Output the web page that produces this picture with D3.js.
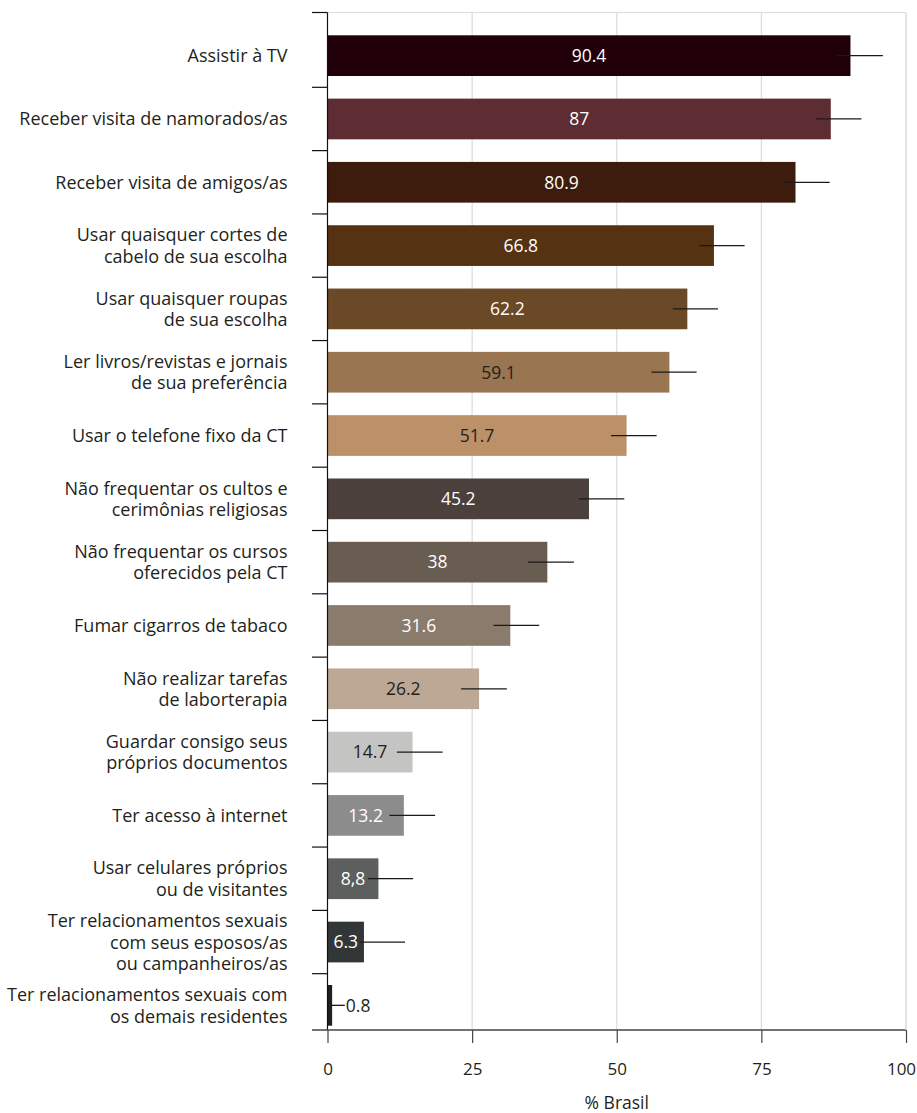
<!DOCTYPE html>
<html>
<head>
<meta charset="utf-8">
<script src="https://cdn.jsdelivr.net/npm/d3@7"></script>
<style>
  html, body { margin: 0; padding: 0; background: #fff; }
  svg { display: block; }
  text { font-family: "Open Sans", "Noto Sans", sans-serif; }
</style>
</head>
<body>
<div id="chart"></div>
<script>
// Rights allowed to residents of therapeutic communities (% Brasil)
const categories = [
  ["Assistir à TV"],
  ["Receber visita de namorados/as"],
  ["Receber visita de amigos/as"],
  ["Usar quaisquer cortes de", "cabelo de sua escolha"],
  ["Usar quaisquer roupas", "de sua escolha"],
  ["Ler livros/revistas e jornais", "de sua preferência"],
  ["Usar o telefone fixo da CT"],
  ["Não frequentar os cultos e", "cerimônias religiosas"],
  ["Não frequentar os cursos", "oferecidos pela CT"],
  ["Fumar cigarros de tabaco"],
  ["Não realizar tarefas", "de laborterapia"],
  ["Guardar consigo seus", "próprios documentos"],
  ["Ter acesso à internet"],
  ["Usar celulares próprios", "ou de visitantes"],
  ["Ter relacionamentos sexuais", "com seus esposos/as", "ou campanheiros/as"],
  ["Ter relacionamentos sexuais com", "os demais residentes"]
];
const values = [90.4, 87, 80.9, 66.8, 62.2, 59.1, 51.7, 45.2, 38, 31.6, 26.2, 14.7, 13.2, 8.8, 6.3, 0.8];
const valueLabels = ["90.4", "87", "80.9", "66.8", "62.2", "59.1", "51.7", "45.2", "38", "31.6", "26.2", "14.7", "13.2", "8,8", "6.3", "0.8"];
const errLow  = [88.2, 84.4, 78.9, 64.3, 59.7, 56.0, 49.0, 43.5, 34.7, 28.7, 23.1, 12.0, 10.7, 7.0, 5.7, 0.5];
const errHigh = [96.0, 92.3, 86.8, 72.1, 67.5, 63.8, 56.9, 51.3, 42.6, 36.6, 31.0, 19.9, 18.6, 14.8, 13.4, 3.0];
const barColors = ["#22000a", "#5e2d33", "#3d1c0e", "#553211", "#6b4826", "#9a7551", "#bc916a",
                   "#4b403c", "#695c51", "#8b7b6d", "#bca895", "#c4c4c2", "#8c8c8c", "#5c5f5e", "#333636", "#231f20"];
const labelColors = ["#fff", "#fff", "#fff", "#fff", "#fff", "#231f20", "#231f20",
                     "#fff", "#fff", "#fff", "#231f20", "#231f20", "#fff", "#fff", "#fff", "#231f20"];
const xTicks = [0, 25, 50, 75, 100];
const xTitle = "% Brasil";

const W = 917, H = 1113;
const plotLeft = 327.5, plotRight = 906, plotTop = 12.5, plotBottom = 1030;

const svg = d3.select("#chart").append("svg").attr("width", W).attr("height", H);

const x = d3.scaleLinear().domain([0, 100]).range([plotLeft, plotRight]);
const y = d3.scaleBand().domain(d3.range(categories.length)).range([24, 1037])
  .paddingInner(0.357).paddingOuter(0.1785);

// grid lines and frame
svg.append("g").selectAll("line").data(xTicks.slice(1))
  .join("line")
  .attr("x1", d => x(d)).attr("x2", d => x(d))
  .attr("y1", plotTop).attr("y2", plotBottom)
  .attr("stroke", "#dcdcdc").attr("stroke-width", 1.2);
svg.append("line")
  .attr("x1", plotLeft).attr("x2", plotRight)
  .attr("y1", plotTop).attr("y2", plotTop)
  .attr("stroke", "#dcdcdc").attr("stroke-width", 1.2);

// bars
svg.append("g").selectAll("rect").data(values)
  .join("rect")
  .attr("x", x(0))
  .attr("y", (d, i) => y(i))
  .attr("width", d => x(d) - x(0))
  .attr("height", y.bandwidth())
  .attr("fill", (d, i) => barColors[i]);

// error bars
svg.append("g").selectAll("line").data(values)
  .join("line")
  .attr("x1", (d, i) => x(errLow[i]))
  .attr("x2", (d, i) => x(errHigh[i]))
  .attr("y1", (d, i) => y(i) + y.bandwidth() / 2)
  .attr("y2", (d, i) => y(i) + y.bandwidth() / 2)
  .attr("stroke", "#1a1a1a").attr("stroke-width", 1.3);

// value labels: centred on the bar, or after the error bar for tiny bars
svg.append("g").selectAll("text").data(values)
  .join("text")
  .attr("x", (d, i) => d < 3 ? x(errHigh[i]) + 1 : x(d / 2))
  .attr("y", (d, i) => y(i) + y.bandwidth() / 2)
  .attr("dy", "0.36em")
  .attr("text-anchor", d => d < 3 ? "start" : "middle")
  .attr("font-size", 17.5)
  .attr("fill", (d, i) => labelColors[i])
  .text((d, i) => valueLabels[i]);

// category axis
const step = y.step();
const yAxisG = svg.append("g");
yAxisG.append("line")
  .attr("x1", plotLeft).attr("x2", plotLeft)
  .attr("y1", plotTop).attr("y2", plotBottom)
  .attr("stroke", "#111").attr("stroke-width", 1.2);
const tickYs = [plotTop].concat(d3.range(categories.length - 1).map(i => y(i) + y.bandwidth() + (step - y.bandwidth()) / 2));
yAxisG.selectAll("line.tick").data(tickYs)
  .join("line").attr("class", "tick")
  .attr("x1", plotLeft - 15.5).attr("x2", plotLeft)
  .attr("y1", d => d).attr("y2", d => d)
  .attr("stroke", "#111").attr("stroke-width", 1.2);

const lineH = 21.5;
yAxisG.selectAll("text.cat").data(categories)
  .join("text").attr("class", "cat")
  .attr("text-anchor", "end")
  .attr("font-size", 18)
  .attr("fill", "#231f20")
  .attr("transform", (d, i) => `translate(${plotLeft - 40},${y(i) + y.bandwidth() / 2})`)
  .each(function(lines) {
    const t = d3.select(this);
    const offset = -(lines.length - 1) * lineH / 2;
    lines.forEach((ln, k) => {
      t.append("tspan").attr("x", 0).attr("y", offset + k * lineH).attr("dy", "0.36em").text(ln);
    });
  });

// value axis
const xAxis = d3.axisBottom(x).tickValues(xTicks).tickSize(13).tickPadding(20).tickFormat(d3.format("d"));
const xAxisG = svg.append("g").attr("transform", `translate(0,${plotBottom})`).call(xAxis);
xAxisG.select(".domain").remove();
xAxisG.selectAll(".tick line").attr("stroke", "#444").attr("stroke-width", 1.2);
xAxisG.selectAll(".tick text").attr("font-size", 17).attr("fill", "#231f20")
  .attr("font-family", "'Open Sans', 'Noto Sans', sans-serif");
xAxisG.selectAll(".tick text").filter(d => d === 100).attr("dx", -5);
xAxisG.append("line")
  .attr("x1", plotLeft - 15.5).attr("x2", plotRight)
  .attr("y1", 0).attr("y2", 0)
  .attr("stroke", "#444").attr("stroke-width", 1.3);
// right edge of the frame
svg.append("line")
  .attr("x1", plotRight).attr("x2", plotRight)
  .attr("y1", plotTop).attr("y2", plotBottom)
  .attr("stroke", "#dcdcdc").attr("stroke-width", 1.2);

svg.append("text")
  .attr("x", (plotLeft + plotRight) / 2)
  .attr("y", 1109)
  .attr("text-anchor", "middle")
  .attr("font-size", 17.5)
  .attr("fill", "#231f20")
  .text(xTitle);
</script>
</body>
</html>
